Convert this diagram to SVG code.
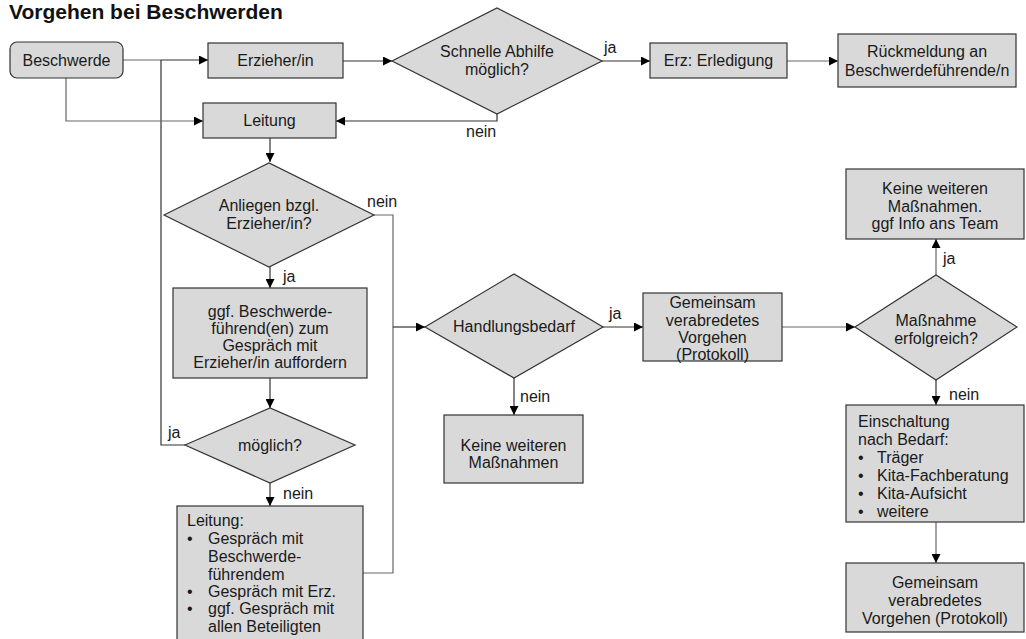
<svg xmlns="http://www.w3.org/2000/svg" width="1026" height="639" viewBox="0 0 1026 639">
<defs>
<marker id="arr" viewBox="0 0 10 10" refX="10" refY="5" markerWidth="9" markerHeight="9" markerUnits="userSpaceOnUse" orient="auto">
<path d="M0,0 L10,5 L0,10 z" fill="#000"/>
</marker>
<style>
.box{fill:#d9d9d9;stroke:#333;stroke-width:1.2}
.dia{fill:#d9d9d9;stroke:#333;stroke-width:1.2}
.t{font-family:"Liberation Sans",Arial,sans-serif;font-size:16px;fill:#1a1a1a}
.c{text-anchor:middle}
.ln{fill:none;stroke:#333;stroke-width:1.2}
.lg{fill:none;stroke:#666;stroke-width:1.2}
.title{font-family:"Liberation Sans",Arial,sans-serif;font-size:21px;font-weight:bold;fill:#111}
</style>
</defs>
<rect width="1026" height="639" fill="#fff"/>
<text class="title" x="9" y="19">Vorgehen bei Beschwerden</text>

<g id="connectors">
<path class="lg" d="M123,60 H161"/>
<path class="ln" d="M161,60 H208" marker-end="url(#arr)"/>
<path class="ln" d="M185,445 H161 V60"/>
<path class="lg" d="M66,78 V121 H203" marker-end="url(#arr)"/>
<path class="ln" d="M343,61 H392" marker-end="url(#arr)"/>
<path class="ln" d="M602,61 H650" marker-end="url(#arr)"/>
<path class="lg" d="M787,61 H838" marker-end="url(#arr)"/>
<path class="ln" d="M497,114 V121 H336" marker-end="url(#arr)"/>
<path class="ln" d="M270,138 V162" marker-end="url(#arr)"/>
<path class="ln" d="M270,267 V288" marker-end="url(#arr)"/>
<path class="lg" d="M374,215 H393 V573 H363"/>
<path class="ln" d="M393,327 H425" marker-end="url(#arr)"/>
<path class="ln" d="M270,378 V408" marker-end="url(#arr)"/>
<path class="ln" d="M270,483 V506" marker-end="url(#arr)"/>
<path class="ln" d="M514,378 V415" marker-end="url(#arr)"/>
<path class="ln" d="M603,327 H643" marker-end="url(#arr)"/>
<path class="lg" d="M782,327 H855" marker-end="url(#arr)"/>
<path class="lg" d="M936,275 V239" marker-end="url(#arr)"/>
<path class="ln" d="M936,380 V405" marker-end="url(#arr)"/>
<path class="lg" d="M936,522 V563" marker-end="url(#arr)"/>
<text class="t" x="604" y="53">ja</text>
<text class="t" x="466" y="137">nein</text>
<text class="t" x="367" y="207">nein</text>
<text class="t" x="283" y="282">ja</text>
<text class="t" x="168" y="438">ja</text>
<text class="t" x="283" y="499">nein</text>
<text class="t" x="609" y="319">ja</text>
<text class="t" x="520" y="402">nein</text>
<text class="t" x="943" y="264">ja</text>
<text class="t" x="949" y="400">nein</text>
</g>

<g id="beschwerde">
<rect class="box" x="10" y="42" width="113" height="36" rx="7"/>
<text class="t c" x="66.5" y="66">Beschwerde</text>
</g>
<g id="erzieher">
<rect class="box" x="208" y="43" width="135" height="35"/>
<text class="t c" x="275.5" y="66">Erzieher/in</text>
</g>
<g id="schnelle-abhilfe">
<polygon class="dia" points="392,61 497,8 602,61 497,114"/>
<text class="t c" x="497" y="57">Schnelle Abhilfe</text>
<text class="t c" x="497" y="75">möglich?</text>
</g>
<g id="erz-erledigung">
<rect class="box" x="650" y="43" width="137" height="35"/>
<text class="t c" x="718.5" y="66">Erz: Erledigung</text>
</g>
<g id="rueckmeldung">
<rect class="box" x="838" y="34" width="178" height="53"/>
<text class="t c" x="927" y="57">Rückmeldung an</text>
<text class="t c" x="927" y="76">Beschwerdeführende/n</text>
</g>
<g id="leitung">
<rect class="box" x="203" y="103" width="133" height="35"/>
<text class="t c" x="269.5" y="126">Leitung</text>
</g>
<g id="anliegen">
<polygon class="dia" points="164,215 269,163 374,215 269,267"/>
<text class="t c" x="269" y="211">Anliegen bzgl.</text>
<text class="t c" x="269" y="229">Erzieher/in?</text>
</g>
<g id="ggf-gespraech">
<rect class="box" x="173" y="288" width="194" height="90"/>
<text class="t c" x="270" y="317">ggf. Beschwerde-</text>
<text class="t c" x="270" y="334">führend(en) zum</text>
<text class="t c" x="270" y="351">Gespräch mit</text>
<text class="t c" x="270" y="368">Erzieher/in auffordern</text>
</g>
<g id="moeglich">
<polygon class="dia" points="185,445 270,408 355,445 270,483"/>
<text class="t c" x="270" y="451">möglich?</text>
</g>
<g id="leitung-gespraech">
<rect class="box" x="177" y="506" width="186" height="134"/>
<text class="t" x="187" y="526">Leitung:</text>
<text class="t" x="187" y="544">•</text><text class="t" x="208" y="544">Gespräch mit</text>
<text class="t" x="208" y="562">Beschwerde-</text>
<text class="t" x="208" y="580">führendem</text>
<text class="t" x="187" y="597">•</text><text class="t" x="208" y="597">Gespräch mit Erz.</text>
<text class="t" x="187" y="614">•</text><text class="t" x="208" y="614">ggf. Gespräch mit</text>
<text class="t" x="208" y="632">allen Beteiligten</text>
</g>
<g id="handlungsbedarf">
<polygon class="dia" points="425,327 514,274 603,327 514,378"/>
<text class="t c" x="514" y="332">Handlungsbedarf</text>
</g>
<g id="keine-weiteren-1">
<rect class="box" x="444" y="415" width="139" height="68"/>
<text class="t c" x="513.5" y="451">Keine weiteren</text>
<text class="t c" x="513.5" y="468">Maßnahmen</text>
</g>
<g id="gemeinsam-1">
<rect class="box" x="643" y="293" width="139" height="68"/>
<text class="t c" x="712.5" y="308">Gemeinsam</text>
<text class="t c" x="712.5" y="326">verabredetes</text>
<text class="t c" x="712.5" y="343">Vorgehen</text>
<text class="t c" x="712.5" y="360">(Protokoll)</text>
</g>
<g id="massnahme-erfolgreich">
<polygon class="dia" points="855,327 936,275 1017,327 936,380"/>
<text class="t c" x="936" y="326">Maßnahme</text>
<text class="t c" x="936" y="344">erfolgreich?</text>
</g>
<g id="keine-weiteren-2">
<rect class="box" x="846" y="169" width="178" height="70"/>
<text class="t c" x="935" y="194">Keine weiteren</text>
<text class="t c" x="935" y="212">Maßnahmen.</text>
<text class="t c" x="935" y="229">ggf Info ans Team</text>
</g>
<g id="einschaltung">
<rect class="box" x="846" y="405" width="178" height="117"/>
<text class="t" x="858" y="427">Einschaltung</text>
<text class="t" x="858" y="445">nach Bedarf:</text>
<text class="t" x="858" y="463">•</text><text class="t" x="877" y="463">Träger</text>
<text class="t" x="858" y="481">•</text><text class="t" x="877" y="481">Kita-Fachberatung</text>
<text class="t" x="858" y="499">•</text><text class="t" x="877" y="499">Kita-Aufsicht</text>
<text class="t" x="858" y="517">•</text><text class="t" x="877" y="517">weitere</text>
</g>
<g id="gemeinsam-2">
<rect class="box" x="846" y="563" width="178" height="69"/>
<text class="t c" x="935" y="588">Gemeinsam</text>
<text class="t c" x="935" y="606">verabredetes</text>
<text class="t c" x="935" y="624">Vorgehen (Protokoll)</text>
</g>
</svg>
